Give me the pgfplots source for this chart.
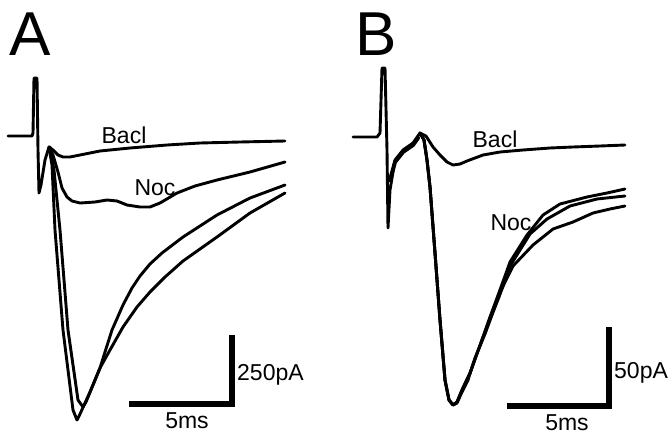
\documentclass[border=0pt]{standalone}
\usepackage{fontspec}
\setmainfont{Liberation Sans}
\usepackage{pgfplots}
\pgfplotsset{compat=1.18}
\begin{document}
\begin{tikzpicture}
\begin{axis}[width=671pt,height=434pt,scale only axis,
  xmin=0,xmax=671,ymin=0,ymax=434,y dir=reverse,
  axis lines=none,clip=false,
  tr/.style={black,line width=2.9pt,line join=round,line cap=round,mark=none},
  bar/.style={black,line width=5.5pt,line cap=butt,line join=miter,mark=none}]
\path (axis cs:0,0) rectangle (axis cs:671,434);
% ---------- Panel A ----------
% stimulus artefact
\addplot[tr] coordinates {(8,136) (32,136) (33,133) (34,78) (37,78) (38,150) (39,193) (41,185) (45,160) (49,147)};
% Bacl
\addplot[tr] coordinates {(49,147) (53,150) (58,155) (63,157) (70,157) (80,155) (100,151) (130,148) (167,145) (200,143) (240,142) (285,141)};
% Noc
\addplot[tr] coordinates {(49,147) (53,155) (58,172) (62,188) (67,197) (72,201) (80,203) (95,202) (107,200) (117,201) (127,205) (140,207) (150,207) (160,203) (177,193) (195,186) (217,180) (250,172) (285,162)};
% control traces
\addplot[tr] coordinates {(49,147) (52,165) (55,230) (63,330) (73,410) (77,420) (80,414) (90,392) (100,368) (110,350) (123,327) (137,307) (150,292) (165,277) (183,261) (200,249) (217,237) (250,213) (285,193)};
\addplot[tr] coordinates {(50,147) (54,170) (60,230) (68,330) (78,400) (83,407) (86,402) (93,385) (100,368) (105,352) (112,330) (123,305) (132,288) (140,276) (150,264) (162,253) (183,237) (217,215) (250,198) (285,185)};
% scale bar A
\addplot[bar] coordinates {(129,404) (232,404) (232,335)};
\node[anchor=base,inner sep=0,font=\fontsize{62}{70}\selectfont] at (axis cs:30,55) {A};
\node[anchor=base,inner sep=0,font=\fontsize{23}{26}\selectfont] at (axis cs:124,143) {Bacl};
\node[anchor=base,inner sep=0,font=\fontsize{23}{26}\selectfont] at (axis cs:155,195) {Noc};
\node[anchor=base west,inner sep=0,font=\fontsize{23}{26}\selectfont] at (axis cs:237,380) {250pA};
\node[anchor=base,inner sep=0,font=\fontsize{23}{26}\selectfont] at (axis cs:187,428) {5ms};
% ---------- Panel B ----------
\addplot[tr] coordinates {(353,137) (377,137) (380,133) (382,68) (385,68) (387,150) (388,228) (390,190) (395,160) (403,150) (413,143) (420,133)};
\addplot[tr,line width=4pt] coordinates {(390,180) (395,162) (403,152) (413,145) (418,138)};
% Bacl
\addplot[tr] coordinates {(420,133) (426,136) (433,147) (440,155) (447,162) (453,165) (460,164) (467,161) (483,155) (500,152) (523,150) (550,148) (573,147) (600,146) (625,145)};
% control + Noc traces
\addplot[tr] coordinates {(420,133) (424,140) (427,160) (430,187) (435,253) (440,320) (445,380) (449,400) (453,405) (457,402) (462,390) (470,373) (483,337) (490,317) (497,298) (505,276) (510,262) (527,235) (543,215) (560,204) (587,197) (607,193) (625,189)};
\addplot[tr] coordinates {(420,133) (424,140) (427,160) (430,187) (435,253) (440,320) (445,380) (449,400) (453,405) (457,403) (462,392) (468,380) (475,358) (485,334) (492,315) (499,297) (505,280) (510,266) (530,234) (547,219) (570,206) (597,199) (625,196)};
\addplot[tr] coordinates {(420,133) (424,140) (427,160) (430,187) (435,253) (440,320) (445,380) (449,400) (453,405) (457,402) (462,390) (470,373) (483,337) (490,318) (497,300) (505,282) (513,266) (533,245) (553,229) (573,222) (593,213) (610,209) (625,206)};
% scale bar B
\addplot[bar] coordinates {(507,406) (609,406) (609,327)};
\node[anchor=base,inner sep=0,font=\fontsize{62}{70}\selectfont] at (axis cs:376,55) {B};
\node[anchor=base,inner sep=0,font=\fontsize{23}{26}\selectfont] at (axis cs:495,147) {Bacl};
\node[anchor=base,inner sep=0,font=\fontsize{23}{26}\selectfont] at (axis cs:511,230) {Noc};
\node[anchor=base west,inner sep=0,font=\fontsize{23}{26}\selectfont] at (axis cs:614,378) {50pA};
\node[anchor=base,inner sep=0,font=\fontsize{23}{26}\selectfont] at (axis cs:567,430) {5ms};
\end{axis}
\end{tikzpicture}
\end{document}
